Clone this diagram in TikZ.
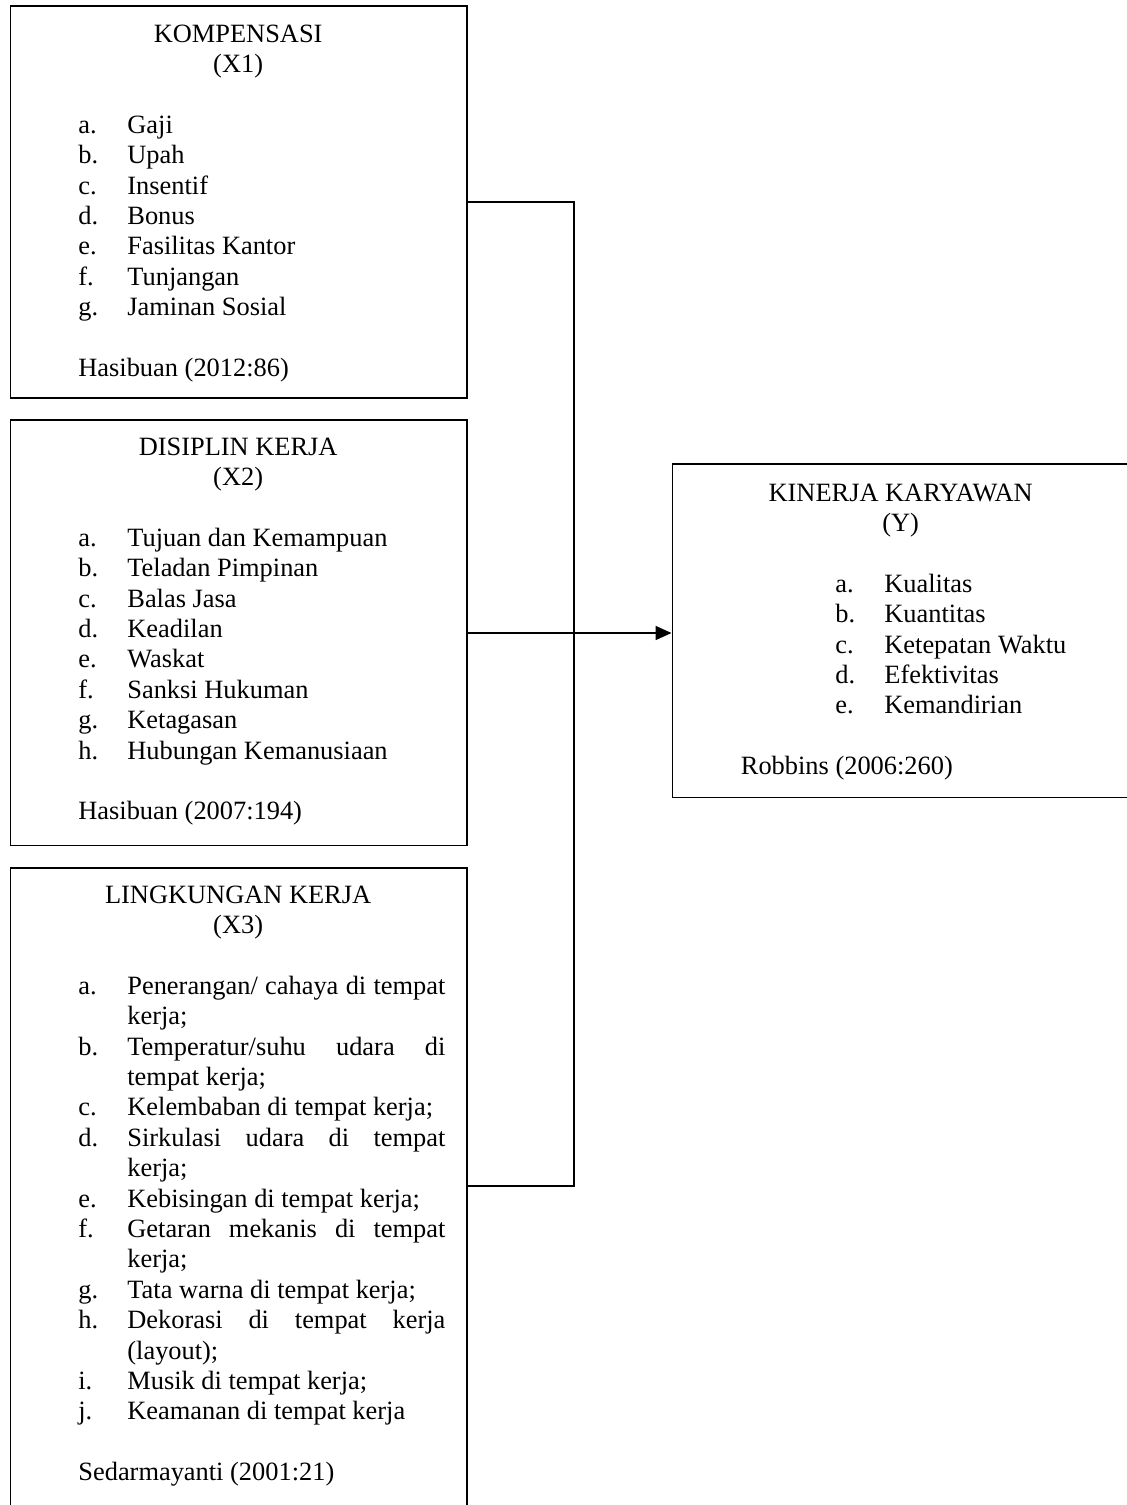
\documentclass[tikz,border=0pt]{standalone}
\usepackage{fontspec}
\setmainfont{Liberation Serif}
\usetikzlibrary{arrows.meta,positioning}

% satu butir daftar: huruf di kiri, teks mulai di \leftskip
\newcommand{\butir}[2]{\noindent\llap{\makebox[24.5pt][l]{#1}}#2\par}

\begin{document}
\begin{tikzpicture}[x=0.5pt,y=-0.5pt,
    kotak/.style={draw, line width=0.85pt, inner sep=0pt, anchor=north west, minimum width=228.25pt},
    isi/.style={anchor=base west, inner sep=0pt, font=\fontsize{13.2}{15.2}\selectfont},
    garis/.style={line width=0.85pt},
    panah/.style={garis, -{Triangle[length=8pt,width=7pt]}}]

  \useasboundingbox (0,0) rectangle (1126,1505);

  % Kotak variabel
  \node[kotak, minimum height=196pt] (kom) at (9.5,5) {};
  \node[kotak, minimum height=212.75pt] (dis) at (9.5,419) {};
  \node[kotak, minimum height=321.5pt] (ling) at (9.5,867) {};
  \node[kotak, minimum width=228.75pt, minimum height=166.75pt] (kin) at (671.5,463) {};

  % Kompensasi (X1)
  \node[isi] (komisi) at ([yshift=-18.5pt]kom.north west) {\parbox[t]{228.25pt}{%
    \centering KOMPENSASI\\(X1)\par
    \vspace{\baselineskip}\leftskip=58.75pt\rightskip=0pt\parfillskip=0pt plus 1fil
    \butir{a.}{Gaji}
    \butir{b.}{Upah}
    \butir{c.}{Insentif}
    \butir{d.}{Bonus}
    \butir{e.}{Fasilitas Kantor}
    \butir{f.}{Tunjangan}
    \butir{g.}{Jaminan Sosial}
    \vspace{\baselineskip}{\leftskip=34.25pt\noindent Hasibuan (2012:86)\par}}};

  % Disiplin kerja (X2)
  \node[isi] (disisi) at ([yshift=-18pt]dis.north west) {\parbox[t]{228.25pt}{%
    \centering DISIPLIN KERJA\\(X2)\par
    \vspace{\baselineskip}\leftskip=58.75pt\rightskip=0pt\parfillskip=0pt plus 1fil
    \butir{a.}{Tujuan dan Kemampuan}
    \butir{b.}{Teladan Pimpinan}
    \butir{c.}{Balas Jasa}
    \butir{d.}{Keadilan}
    \butir{e.}{Waskat}
    \butir{f.}{Sanksi Hukuman}
    \butir{g.}{Ketagasan}
    \butir{h.}{Hubungan Kemanusiaan}
    \vspace{\baselineskip}{\leftskip=34.25pt\noindent Hasibuan (2007:194)\par}}};

  % Lingkungan kerja (X3)
  \node[isi] (lingisi) at ([yshift=-18pt]ling.north west) {\parbox[t]{228.25pt}{%
    \centering LINGKUNGAN KERJA\\(X3)\par
    \vspace{\baselineskip}\leftskip=58.75pt\rightskip=10.5pt\parfillskip=0pt plus 1fil
    \tolerance=10000\hbadness=10000\hyphenpenalty=10000
    \butir{a.}{Penerangan/ cahaya di tempat\linebreak kerja;}
    \butir{b.}{Temperatur/suhu udara di\linebreak tempat kerja;}
    \butir{c.}{Kelembaban di tempat kerja;}
    \butir{d.}{Sirkulasi udara di tempat\linebreak kerja;}
    \butir{e.}{Kebisingan di tempat kerja;}
    \butir{f.}{Getaran mekanis di tempat\linebreak kerja;}
    \butir{g.}{Tata warna di tempat kerja;}
    \butir{h.}{Dekorasi di tempat kerja\linebreak (layout);}
    \butir{i.}{Musik di tempat kerja;}
    \butir{j.}{Keamanan di tempat kerja}
    \vspace{\baselineskip}{\leftskip=34.25pt\noindent Sedarmayanti (2001:21)\par}}};

  % Kinerja karyawan (Y)
  \node[isi] (kinisi) at ([yshift=-19pt]kin.north west) {\parbox[t]{228.75pt}{%
    \centering KINERJA KARYAWAN\\(Y)\par
    \vspace{\baselineskip}\leftskip=106.25pt\rightskip=0pt\parfillskip=0pt plus 1fil
    \butir{a.}{Kualitas}
    \butir{b.}{Kuantitas}
    \butir{c.}{Ketepatan Waktu}
    \butir{d.}{Efektivitas}
    \butir{e.}{Kemandirian}
    \vspace{\baselineskip}{\leftskip=34.5pt\noindent Robbins (2006:260)\par}}};

  % Garis penghubung
  \coordinate (jn) at (574,633);
  \draw[garis] (kom.east) -| (jn);
  \draw[garis] ([yshift=1.75pt]ling.east) -| (jn);
  \draw[panah] (dis.east |- jn) -- (kin.west |- jn);
\end{tikzpicture}
\end{document}
